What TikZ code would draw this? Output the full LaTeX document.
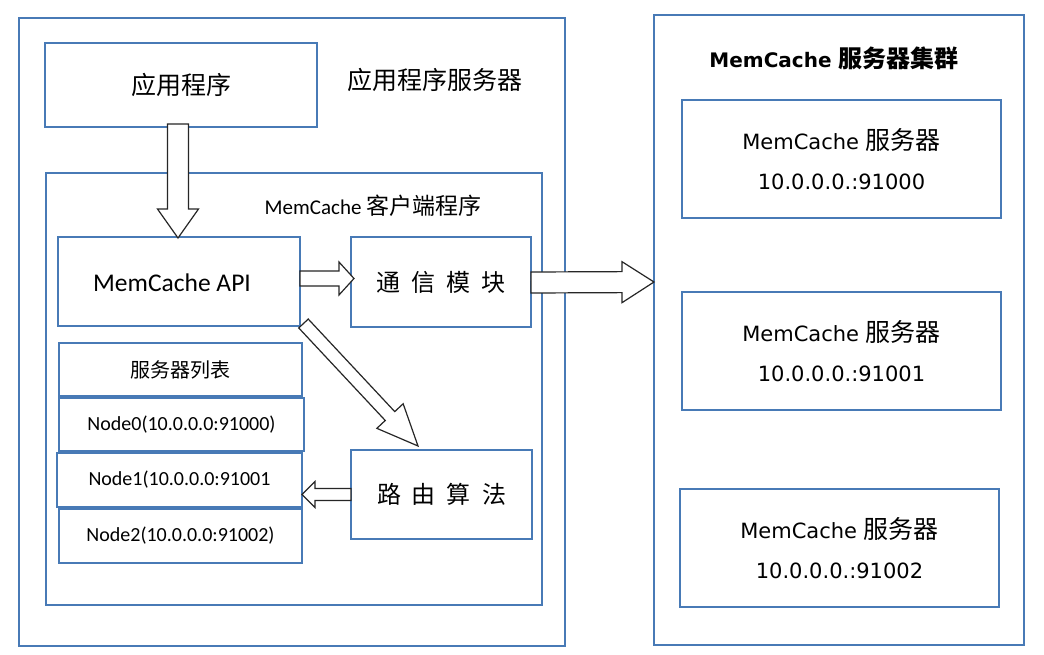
\documentclass[tikz,border=0pt]{standalone}
\usepackage{fontspec}
\setmainfont{Carlito}
\newfontfamily\cjk{Noto Sans CJK SC}
\newfontfamily\dv{DejaVu Sans}
\usetikzlibrary{calc}
\definecolor{boxblue}{RGB}{72,122,182}
\newcommand\zh[2]{{\cjk\fontsize{#1}{#1}\selectfont #2}}
\newcommand\spc{\hspace{11pt}}
\newcommand\blockarrow[5]{%
  \coordinate (bas) at #1;
  \coordinate (bae) at #2;
  \coordinate (bah) at ($(bae)!#5!(bas)$);
  \draw[blockarr] ($(bas)!#3!90:(bae)$) -- ($(bah)!#3!-90:(bas)$) -- ($(bah)!#4!-90:(bas)$) -- (bae)
     -- ($(bah)!#4!90:(bas)$) -- ($(bah)!#3!90:(bas)$) -- ($(bas)!#3!-90:(bae)$) -- cycle;}
\tikzset{
  bluebox/.style={draw=boxblue, line width=2.7pt, fill=white, inner sep=0pt, outer sep=0pt},
  blockarr/.style={draw=black!85, line width=1.2pt, fill=white, line join=miter},
  lbl/.style={inner sep=0pt, text=black}
}
\begin{document}
\begin{tikzpicture}[x=1pt,y=-1pt]
\useasboundingbox[fill=white] (0,0) rectangle (1044,655);
% left outer
\node[bluebox, minimum width=546, minimum height=628] (appserver) at (292,332) {};
\node[bluebox, minimum width=272, minimum height=84] (app) at (181,85) {\zh{25}{应用程序}};
\node[lbl] (appserverlbl) at (435,80) {\zh{25}{应用程序服务器}};
\node[bluebox, minimum width=496, minimum height=432] (client) at (294,389) {};
\node[lbl, font=\fontsize{21}{24}\selectfont] (clientlbl) at (373,206) {MemCache \zh{23}{客户端程序}};
\node[bluebox, minimum width=242, minimum height=89] (api) at (179,281.5) {};
\node[lbl, font=\fontsize{25.5}{28}\selectfont] (apilbl) at (172,283) {MemCache API};
\node[bluebox, minimum width=180, minimum height=90] (comm) at (441,282) {\zh{24}{通\spc 信\spc 模\spc 块}};
\node[bluebox, minimum width=243, minimum height=53] (list) at (180.5,369.5) {\zh{20}{服务器列表}};
\node[bluebox, minimum width=245, minimum height=53, font=\fontsize{20}{24}\selectfont] (n0) at (181.5,424.5) {Node0(10.0.0.0:91000)};
\node[bluebox, minimum width=245, minimum height=54, font=\fontsize{20}{24}\selectfont] (n1) at (179.5,480) {Node1(10.0.0.0:91001};
\node[bluebox, minimum width=243, minimum height=54, font=\fontsize{20}{24}\selectfont] (n2) at (180.5,536) {Node2(10.0.0.0:91002)};
\node[bluebox, minimum width=181, minimum height=89] (route) at (441.5,494.5) {\zh{24}{路\spc 由\spc 算\spc 法}};
% right cluster
\node[bluebox, minimum width=370, minimum height=630] (cluster) at (839,330) {};
\node[lbl, font=\dv\bfseries\fontsize{20}{22}\selectfont] (clusterlbl) at (834,58) {MemCache \zh{24}{\bfseries 服务器集群}};
\node[bluebox, minimum width=319, minimum height=118, align=center, font=\dv\fontsize{21}{40}\selectfont] (s1) at (841.5,159) {MemCache \zh{25}{服务器}\\10.0.0.0.:91000};
\node[bluebox, minimum width=319, minimum height=118, align=center, font=\dv\fontsize{21}{40}\selectfont] (s2) at (841.5,351) {MemCache \zh{25}{服务器}\\10.0.0.0.:91001};
\node[bluebox, minimum width=319, minimum height=118, align=center, font=\dv\fontsize{21}{40}\selectfont] (s3) at (839.5,548) {MemCache \zh{25}{服务器}\\10.0.0.0.:91002};
% block arrows
\blockarrow{($(app.south)+(-3,-3)$)}{($(api.north)+(-1,1)$)}{10.5pt}{20.5pt}{29pt}
\blockarrow{($(api.east)+(0,-3)$)}{($(comm.west)+(3,-3.5)$)}{7.5pt}{16.5pt}{15pt}
\blockarrow{($(comm.east)+(0,0.5)$)}{($(comm.east -| cluster.west)+(0,0)$)}{10.5pt}{20.5pt}{32pt}
\blockarrow{($(api.south east)+(3.5,-2.5)$)}{($(route.north)+(-23.5,-4)$)}{6.5pt}{18pt}{41pt}
\blockarrow{(route.west)}{(route.west -| n1.east)}{6pt}{13pt}{13pt}
\end{tikzpicture}
\end{document}
